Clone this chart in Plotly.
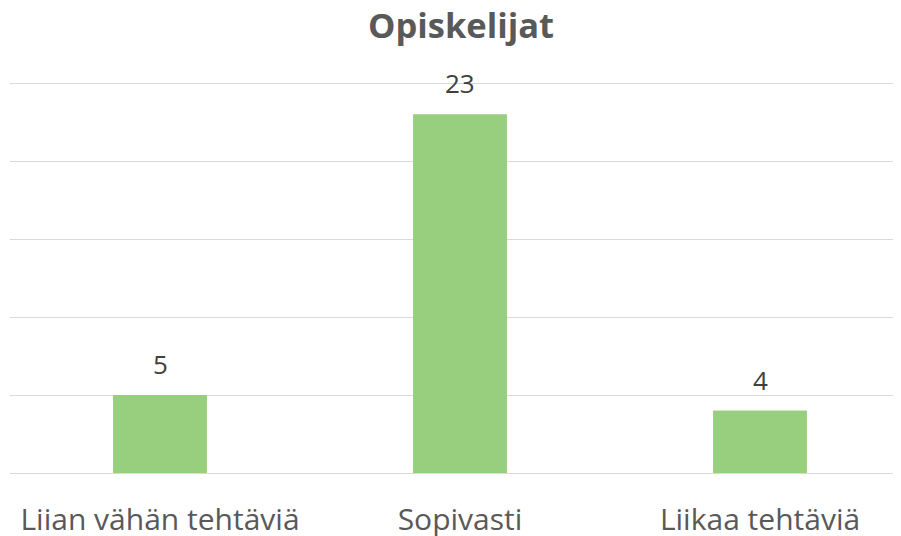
import plotly.graph_objects as go

categories = ["Liian vähän tehtäviä", "Sopivasti", "Liikaa tehtäviä"]
values = [5, 23, 4]
title_text = "Opiskelijat"

xpos = list(range(len(categories)))
FONT = "Open Sans"
W, H = 893, 528  # page body has an 8px margin

fig = go.Figure(go.Bar(
    x=xpos, y=values, width=0.313,
    marker=dict(color="#97CF7E", line=dict(width=0)),
    cliponaxis=False,
))

for xi, v in zip(xpos, values):
    fig.add_annotation(x=xi, y=v, text=str(v), showarrow=False,
                       yanchor="bottom", yshift=11,
                       font=dict(family=FONT, size=26, color="#404040"))

fig.update_layout(
    width=W, height=H,
    margin=dict(l=2, r=0, t=74, b=H - 465, autoexpand=False),
    paper_bgcolor="white", plot_bgcolor="white",
    title=dict(text="<b>" + title_text + "</b>", x=453 / W, xanchor="center",
               y=1 - 18 / H, yanchor="middle", yref="container",
               font=dict(family=FONT, size=34.5, color="#595959")),
    showlegend=False,
    xaxis=dict(range=[-0.5, 2.47], tickvals=xpos, ticktext=categories,
               showgrid=False, zeroline=False, showline=False, ticks="",
               ticklabelstandoff=26, automargin=False,
               tickfont=dict(family=FONT, size=30, color="#595959")),
    yaxis=dict(range=[0, 25.07], dtick=5, tick0=0, showticklabels=False,
               showgrid=True, gridcolor="#D9D9D9", gridwidth=1.3,
               zeroline=True, zerolinecolor="#D9D9D9", zerolinewidth=1.3,
               showline=False, ticks="", automargin=False),
)

fig.write_html("out.html")
